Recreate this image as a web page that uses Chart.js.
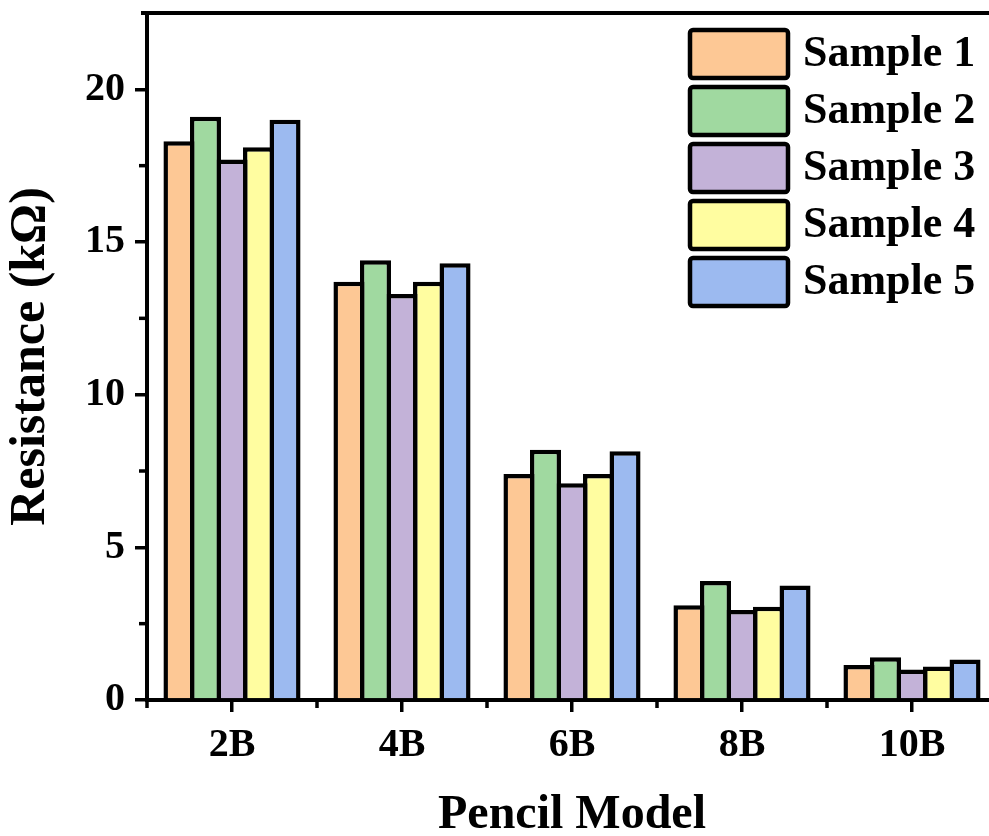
<!DOCTYPE html>
<html>
<head>
<meta charset="utf-8">
<title>Resistance by Pencil Model</title>
<script src="https://cdn.jsdelivr.net/npm/chart.js@4.4.0/dist/chart.umd.min.js"></script>
<style>
  html, body { margin: 0; padding: 0; background: #fff; overflow: hidden; }
  #chart { display: block; }
</style>
</head>
<body>
<canvas id="chart" width="1010" height="836"></canvas>
<script>
// data
const categories = ["2B", "4B", "6B", "8B", "10B"];
const seriesNames = ["Sample 1", "Sample 2", "Sample 3", "Sample 4", "Sample 5"];
const sample1 = [18.3, 13.7, 7.4, 3.1, 1.15];
const sample2 = [19.1, 14.4, 8.2, 3.9, 1.4];
const sample3 = [17.7, 13.3, 7.1, 2.95, 1.0];
const sample4 = [18.1, 13.7, 7.4, 3.05, 1.1];
const sample5 = [19.0, 14.3, 8.15, 3.75, 1.33];
const yTicks = [0, 5, 10, 15, 20];
const yMinorTicks = [2.5, 7.5, 12.5, 17.5];

const seriesValues = [sample1, sample2, sample3, sample4, sample5];
const fillColors = ["#fdc895", "#a0d9a0", "#c3b2d8", "#fffda0", "#9cbaf0"];

const FONT = "'Liberation Serif', 'Times New Roman', serif";

// minor ticks + top/right frame
const framePlugin = {
  id: "frame",
  afterDraw(chart) {
    const ctx = chart.ctx;
    const area = chart.chartArea;
    const x = chart.scales.x;
    const y = chart.scales.y;
    ctx.save();
    ctx.strokeStyle = "#000";
    ctx.lineWidth = 4;
    ctx.beginPath();
    ctx.moveTo(area.left - 6, area.top);
    ctx.lineTo(area.right, area.top);
    ctx.lineTo(area.right, area.bottom);
    ctx.stroke();

    ctx.lineWidth = 3.5;
    // y minor ticks
    yMinorTicks.forEach((v) => {
      const py = y.getPixelForValue(v);
      ctx.beginPath();
      ctx.moveTo(area.left - 2, py);
      ctx.lineTo(area.left - 8, py);
      ctx.stroke();
    });
    // x minor ticks at category boundaries
    for (let i = 0; i <= categories.length; i++) {
      const px = x.getPixelForValue(i - 0.5);
      ctx.beginPath();
      ctx.moveTo(px, area.bottom + 2);
      ctx.lineTo(px, area.bottom + 8);
      ctx.stroke();
    }
    ctx.restore();
  }
};

// legend drawn inside the plot area, top right
const legendPlugin = {
  id: "boxLegend",
  afterDraw(chart) {
    const ctx = chart.ctx;
    ctx.save();
    chart.data.datasets.forEach((ds, i) => {
      const bx = 688, by = 28 + i * 57, bw = 102, bh = 52;
      ctx.beginPath();
      ctx.roundRect(bx + 2, by + 2, bw - 4, bh - 4, 3);
      ctx.fillStyle = ds.backgroundColor;
      ctx.fill();
      ctx.lineWidth = 4.5;
      ctx.strokeStyle = "#000";
      ctx.stroke();

      ctx.fillStyle = "#000";
      ctx.font = "bold 44px " + FONT;
      ctx.textAlign = "left";
      ctx.textBaseline = "middle";
      ctx.fillText(ds.label, 803, by + bh / 2 + 1);
    });
    ctx.restore();
  }
};

const datasets = seriesNames.map((name, i) => ({
  label: name,
  data: seriesValues[i],
  backgroundColor: fillColors[i],
  borderColor: "#000",
  borderWidth: 4.5,
  borderSkipped: "start",
  categoryPercentage: 0.78,
  barPercentage: 1.17
}));

// keep the plot area where the figure has it
const noEdgePadding = (axis) => {
  axis.paddingTop = 0;
  axis.paddingBottom = 0;
  axis.paddingLeft = 0;
  axis.paddingRight = 0;
};

new Chart(document.getElementById("chart"), {
  type: "bar",
  data: { labels: categories, datasets: datasets },
  plugins: [framePlugin, legendPlugin],
  options: {
    responsive: false,
    animation: false,
    layout: { padding: { top: 13, right: 13, left: 0, bottom: 0 } },
    plugins: {
      legend: { display: false },
      tooltip: { enabled: false }
    },
    scales: {
      x: {
        afterFit: (axis) => { axis.height = 136; noEdgePadding(axis); },
        grid: {
          offset: false,
          drawOnChartArea: false,
          color: "#000",
          lineWidth: 3.5,
          tickLength: 12
        },
        border: { display: true, color: "#000", width: 4 },
        ticks: {
          color: "#000",
          padding: 10,
          font: { family: FONT, size: 40, weight: "bold" }
        },
        title: {
          display: true,
          text: "Pencil Model",
          color: "#000",
          padding: { top: 0, bottom: 0 },
          font: { family: FONT, size: 48, weight: "bold", lineHeight: 0.84 }
        }
      },
      y: {
        min: 0,
        max: 22.5,
        afterFit: (axis) => { axis.width = 147; noEdgePadding(axis); },
        afterBuildTicks: (axis) => {
          axis.ticks = yTicks.map((v) => ({ value: v }));
        },
        grid: {
          drawOnChartArea: false,
          color: "#000",
          lineWidth: 3.5,
          tickLength: 12
        },
        border: { display: true, color: "#000", width: 4 },
        ticks: {
          color: "#000",
          padding: 10,
          font: { family: FONT, size: 40, weight: "bold" }
        },
        title: {
          display: true,
          text: "Resistance (kΩ)",
          color: "#000",
          padding: { top: 6, bottom: 0 },
          font: { family: FONT, size: 50, weight: "bold", lineHeight: 1 }
        }
      }
    }
  }
});
</script>
</body>
</html>
